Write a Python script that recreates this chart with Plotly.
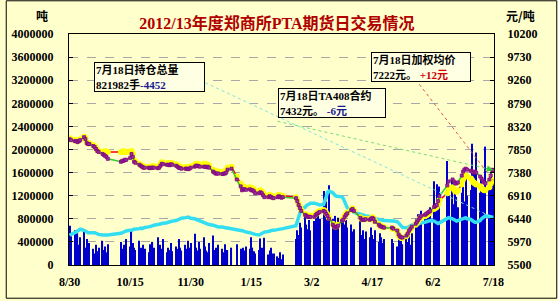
import plotly.graph_objects as go

# ---------------- data ----------------
MONTH_DAYS = [
    (2012, 8, [30, 31]),
    (2012, 9, [3, 4, 5, 6, 7, 10, 11, 12, 13, 14, 17, 18, 19, 20, 21, 24, 25, 26, 27, 28]),
    (2012, 10, [8, 9, 10, 11, 12, 15, 16, 17, 18, 19, 22, 23, 24, 25, 26, 29, 30, 31]),
    (2012, 11, [1, 2, 5, 6, 7, 8, 9, 12, 13, 14, 15, 16, 19, 20, 21, 22, 23, 26, 27, 28, 29, 30]),
    (2012, 12, [3, 4, 5, 6, 7, 10, 11, 12, 13, 14, 17, 18, 19, 20, 21, 24, 25, 26, 27, 28, 31]),
    (2013, 1, [4, 7, 8, 9, 10, 11, 14, 15, 16, 17, 18, 21, 22, 23, 24, 25, 28, 29, 30, 31]),
    (2013, 2, [1, 4, 5, 6, 7, 8, 18, 19, 20, 21, 22, 25, 26, 27, 28]),
    (2013, 3, [1, 4, 5, 6, 7, 8, 11, 12, 13, 14, 15, 18, 19, 20, 21, 22, 25, 26, 27, 28, 29]),
    (2013, 4, [1, 2, 3, 8, 9, 10, 11, 12, 15, 16, 17, 18, 19, 22, 23, 24, 25, 26]),
    (2013, 5, [2, 3, 6, 7, 8, 9, 10, 13, 14, 15, 16, 17, 20, 21, 22, 23, 24, 27, 28, 29, 30, 31]),
    (2013, 6, [3, 4, 5, 6, 7, 13, 14, 17, 18, 19, 20, 21, 24, 25, 26, 27, 28]),
    (2013, 7, [1, 2, 3, 4, 5, 8, 9, 10, 11, 12, 15, 16, 17, 18]),
]
dates = [f"{y}-{m:02d}-{d:02d}" for y, m, days in MONTH_DAYS for d in days]

# daily volume (万手)
volume_wan = [
    68, 50,
    60, 40, 55, 35, 48, 58, 30, 45, 25, 38, 28, 20, 35, 24, 30, 42, 26, 32, 22, 36,
    40, 28, 35, 30, 45, 32, 60, 38, 30, 26, 42, 30, 25, 35, 28, 22, 36, 30,
    40, 30, 48, 25, 35, 28, 45, 22, 30, 26, 38, 24, 32, 28, 45, 30, 25, 35, 28, 42, 30, 38,
    54, 30, 25, 40, 28, 48, 32, 25, 22, 38, 51, 26, 30, 24, 35, 28, 22, 36, 20, 26, 30,
    36, 28, 22, 30, 25, 32, 28, 48, 30, 24, 20, 26, 46, 30, 22, 47, 18, 25, 30, 20,
    20, 15, 12, 22, 10, 18, 45, 60, 52, 73, 65, 85, 70, 62, 78,
    60, 76, 85, 72, 90, 80, 128, 95, 110, 85, 138, 80, 72, 85, 70, 82, 75, 87, 70, 78, 65,
    70, 58, 62, 78, 52, 60, 45, 58, 48, 65, 52, 45, 60, 40, 55, 48, 38, 45,
    45, 38, 32, 50, 30, 42, 36, 48, 40, 52, 35, 55, 80, 70, 88, 75, 94, 85, 78, 90, 82, 100,
    145, 100, 140, 95, 136, 180, 120, 150, 105, 130, 118, 100, 125, 140, 110, 150, 120,
    130, 210, 160, 140, 195, 125, 150, 130, 120, 205, 140, 160, 125, 150,
]

# daily open interest (万手)
oi_wan = [
    51, 53,
    56, 58, 60, 61, 62, 60, 58, 57, 56, 56, 57, 56, 55, 54, 53, 52, 52, 51, 51, 52,
    55, 56, 57, 58, 59, 60, 60, 61, 62, 62, 63, 64, 63, 64, 65, 66, 66, 67,
    68, 69, 70, 70, 71, 72, 72, 73, 74, 75, 76, 76, 77, 78, 79, 80, 81, 82, 83, 83, 82, 81,
    80, 79, 78, 78, 77, 74, 72, 71, 70, 70, 69, 68, 68, 67, 66, 66, 65, 65, 64, 64, 63,
    62, 61, 60, 59, 58, 57, 56, 55, 54, 53, 53, 52, 53, 54, 55, 57, 58, 59, 60, 60,
    60, 61, 62, 62, 63, 63, 68, 74, 82, 90, 97, 100, 103, 105, 106,
    107, 107, 106, 105, 104, 104, 105, 110, 118, 126, 128, 125, 122, 120, 119, 119, 118, 115, 110, 104, 99,
    95, 93, 91, 88, 87, 86, 85, 85, 84, 83, 82, 81, 80, 79, 78, 78, 77, 77,
    77, 76, 75, 72, 69, 67, 65, 64, 65, 66, 68, 69, 70, 70, 71, 72, 73, 74, 75, 76, 77, 77,
    76, 74, 73, 72, 73, 80, 82, 80, 78, 77, 76, 77, 79, 80, 81, 82, 80,
    79, 77, 75, 74, 74, 77, 80, 82, 84, 85, 84, 83, 82.6434, 82.1982,
]

# TA contract close (元/吨)
price_contract = [
    8060, 8040,
    8020, 8020, 8000, 8020, 8040, 8100, 8060, 7980, 7960, 7960, 7920, 7900, 7860, 7820, 7800, 7760, 7740, 7720, 7700, 7660,
    7600, 7620, 7620, 7640, 7640, 7680, 7760, 7700, 7600, 7580, 7540, 7520, 7500, 7480, 7480, 7480, 7470, 7480,
    7480, 7480, 7470, 7480, 7520, 7560, 7550, 7540, 7540, 7530, 7550, 7540, 7520, 7500, 7480, 7470, 7460, 7460, 7460, 7450, 7460, 7480,
    7500, 7520, 7520, 7510, 7500, 7500, 7500, 7490, 7500, 7480, 7400, 7380, 7360, 7360, 7360, 7350, 7360, 7360, 7380, 7440, 7460,
    7240, 7100, 7020, 7040, 7040, 7030, 7040, 7020, 7020, 7000, 6960, 6960, 6980, 6960, 6920, 6880, 6880, 6900, 6880, 6870,
    6860, 6880, 6900, 6880, 6870, 6880, 6860, 6800, 6720, 6660, 6600, 6520, 6500, 6480, 6480,
    6480, 6480, 6520, 6540, 6560, 6580, 6600, 6580, 6540, 6500, 6440, 6320, 6280, 6260, 6280, 6300, 6400, 6420, 6480, 6520, 6550,
    6620, 6640, 6600, 6460, 6420, 6420, 6420, 6430, 6420, 6440, 6460, 6440, 6380, 6320, 6290, 6280, 6270, 6260,
    6260, 6240, 6200, 6120, 6080, 6060, 6060, 6100, 6140, 6200, 6240, 6280, 6340, 6380, 6420, 6460, 6500, 6520, 6540, 6560, 6580, 6600,
    6680, 6700, 6720, 6800, 6900, 7120, 7200, 7240, 7200, 7160, 7160, 7180, 7320, 7400, 7440, 7460, 7440,
    7420, 7400, 7380, 7400, 7380, 7300, 7260, 7220, 7180, 7160, 7240, 7320, 7438, 7432,
]

# weighted average price (元/吨)
price_weighted = [
    8080, 8060,
    8040, 8040, 8020, 8040, 8060, 8110, 8080, 8000, 7980, 7970, 7940, 7920, 7880, 7840, 7820, 7800, 7800, 7820, 7800, 7800,
    7800, 7800, 7820, 7800, 7800, 7800, 7820, 7760, 7640, 7600, 7560, 7540, 7520, 7500, 7500, 7500, 7490, 7500,
    7510, 7510, 7500, 7510, 7550, 7590, 7580, 7570, 7570, 7560, 7580, 7570, 7550, 7530, 7510, 7500, 7490, 7490, 7490, 7480, 7490, 7510,
    7540, 7560, 7560, 7550, 7540, 7560, 7560, 7540, 7540, 7520, 7440, 7420, 7400, 7400, 7400, 7380, 7400, 7400, 7420, 7480, 7500,
    7300, 7160, 7080, 7090, 7080, 7070, 7080, 7060, 7060, 7040, 7000, 7000, 7020, 7000, 6960, 6920, 6910, 6930, 6910, 6900,
    6890, 6910, 6930, 6910, 6900, 6910, 6880, 6820, 6740, 6680, 6620, 6540, 6520, 6500, 6500,
    6500, 6500, 6540, 6560, 6580, 6600, 6620, 6600, 6560, 6520, 6460, 6340, 6300, 6280, 6300, 6320, 6420, 6440, 6500, 6540, 6570,
    6630, 6650, 6610, 6470, 6430, 6430, 6430, 6440, 6430, 6450, 6470, 6450, 6390, 6330, 6300, 6290, 6280, 6270,
    6250, 6230, 6190, 6110, 6070, 6050, 6050, 6090, 6130, 6190, 6230, 6260, 6320, 6360, 6400, 6440, 6470, 6490, 6510, 6530, 6550, 6570,
    6640, 6660, 6680, 6740, 6820, 6960, 7060, 7080, 7040, 7000, 6990, 7020, 7140, 7240, 7300, 7320, 7300,
    7260, 7220, 7180, 7160, 7140, 7100, 7060, 7040, 7020, 7020, 7080, 7160, 7210, 7222,
]

TICK_DATES = ["2012-08-30", "2012-10-15", "2012-11-30", "2013-01-15",
              "2013-03-02", "2013-04-17", "2013-06-02", "2013-07-18"]
TICK_LABELS = ["8/30", "10/15", "11/30", "1/15", "3/2", "4/17", "6/2", "7/18"]
LEFT_TICKS = list(range(0, 4000001, 400000))
RIGHT_TICKS = list(range(5500, 10201, 470))

assert len(dates) == len(volume_wan) == len(oi_wan) == len(price_contract) == len(price_weighted)

volume = [v * 10000 for v in volume_wan]
oi = [int(round(v * 10000)) for v in oi_wan]

# ---------------- figure ----------------
L, R, T, B = 64, 64, 34, 34
W, H = 558, 301
PW, PH = W - L - R, H - T - B


def px(x):
    return (x - L) / PW


def py(y):
    return (H - B - y) / PH


BG = "#FFFFCC"
TICKFONT = dict(family="Liberation Serif, Noto Sans CJK SC", size=12, color="black", weight="bold")
BOXFONT = dict(family="Liberation Serif, Noto Sans CJK SC", size=11, color="black", weight="bold")

fig = go.Figure()
fig.add_trace(go.Bar(x=dates, y=volume, marker=dict(color="#0000CC", line=dict(width=0)), yaxis="y"))
fig.add_trace(go.Scatter(x=dates, y=oi, mode="lines", line=dict(color="#33DDF2", width=3.5), yaxis="y"))
fig.add_trace(go.Scatter(x=dates, y=price_weighted, mode="lines+markers",
                         line=dict(color="#FF0000", width=1.5),
                         marker=dict(color="#FFFF00", size=6, line=dict(width=0)), yaxis="y2"))
fig.add_trace(go.Scatter(x=dates, y=price_contract, mode="lines+markers",
                         line=dict(color="#33CC33", width=1.5),
                         marker=dict(symbol="square", color="#993399", size=3, line=dict(color="#800080", width=0.8)),
                         yaxis="y2"))

fig.update_layout(
    width=W, height=H, margin=dict(l=L, r=R, t=T, b=B),
    paper_bgcolor=BG, plot_bgcolor=BG, showlegend=False, bargap=0.15,
    title=dict(text="2012/13年度郑商所PTA期货日交易情况", x=277 / W, xref="container", xanchor="center",
               y=1 - 23 / H, yref="container", yanchor="middle",
               font=dict(family="Liberation Serif, Noto Sans CJK SC", size=16, color="#B00000", weight="bold")),
    xaxis=dict(type="date", range=["2012-08-29 12:00", "2013-07-18 12:00"],
               tickvals=TICK_DATES, ticktext=TICK_LABELS, tickfont=TICKFONT,
               showgrid=False, showline=True, linecolor="black", linewidth=1, mirror=True,
               ticks="", ticklabelstandoff=6, zeroline=False),
    yaxis=dict(range=[0, 4000000], tickvals=LEFT_TICKS, ticktext=[str(v) for v in LEFT_TICKS],
               tickfont=TICKFONT, showgrid=True, gridcolor="#A8A8A8", griddash="dash", gridwidth=1,
               showline=True, linecolor="black", linewidth=1, ticks="inside", ticklen=4, tickcolor="black",
               ticklabelstandoff=12, zeroline=False),
    yaxis2=dict(range=[5500, 10200], tickvals=RIGHT_TICKS, ticktext=[str(v) for v in RIGHT_TICKS],
                overlaying="y", side="right", tickfont=TICKFONT, showgrid=False,
                showline=True, linecolor="black", linewidth=1, ticks="inside", ticklen=4, tickcolor="black",
                ticklabelstandoff=10, zeroline=False),
)

last = dates[-1]
# leader lines
fig.add_shape(type="line", xref="x", yref="y", x0="2012-12-07", y0=3200000, x1=last, y1=oi[-1],
              line=dict(color="#7FE3E3", width=1, dash="dot"))
fig.add_shape(type="line", xref="x", yref="y2", x0="2013-02-04", y0=8425, x1=last, y1=price_contract[-1],
              line=dict(color="#77DD77", width=1, dash="dot"))
fig.add_shape(type="line", xref="x", yref="y2", x0="2013-05-20", y0=9272, x1=last, y1=price_weighted[-1],
              line=dict(color="#E05050", width=1, dash="dot"))
fig.add_annotation(x=last, y=price_contract[-1], xref="x", yref="y2", text="", showarrow=True,
                   arrowhead=2, arrowsize=1.3, arrowwidth=1, arrowcolor="#33CC33", ax=-9, ay=-2)

# text boxes
oi_chg = oi[-1] - oi[-2]
pc_chg = price_contract[-1] - price_contract[-2]
pw_chg = price_weighted[-1] - price_weighted[-2]
boxes = [
    (89, 62, 107, 26, f"7月18日持仓总量<br>{oi[-1]}手<span style='color:#1A1A90'>{oi_chg:+d}</span>"),
    (275, 88, 104, 26, f"7月18日TA408合约<br>{price_contract[-1]}元。 <span style='color:#1A1A90'>{pc_chg:+d}元</span>"),
    (370, 52, 96, 26, f"7月18日加权均价<br>{price_weighted[-1]}元。 <span style='color:#CC0000'>{pw_chg:+d}元</span>"),
]
for bx, by, bw, bh, txt in boxes:
    fig.add_annotation(x=px(bx), y=py(by), xref="paper", yref="paper", xanchor="left", yanchor="top",
                       text=txt, showarrow=False, align="left", valign="middle", width=bw, height=bh,
                       bgcolor="#FFFFE4", bordercolor="black", borderwidth=1, borderpad=1, font=BOXFONT)

# unit labels
fig.add_annotation(x=px(37), y=py(15), xref="paper", yref="paper", xanchor="center", yanchor="middle",
                   text="吨", showarrow=False,
                   font=dict(family="Noto Sans CJK SC", size=12, color="black", weight="bold"))
fig.add_annotation(x=px(521), y=py(15), xref="paper", yref="paper", xanchor="center", yanchor="middle",
                   text="元/吨", showarrow=False,
                   font=dict(family="Noto Sans CJK SC", size=12, color="black", weight="bold"))

# outer frame
fig.add_shape(type="rect", xref="paper", yref="paper", x0=px(0.5), x1=px(W - 0.5), y0=py(H - 0.5), y1=py(0.5),
              line=dict(color="black", width=1), fillcolor="rgba(0,0,0,0)", layer="above")

fig.write_html("out.html")
